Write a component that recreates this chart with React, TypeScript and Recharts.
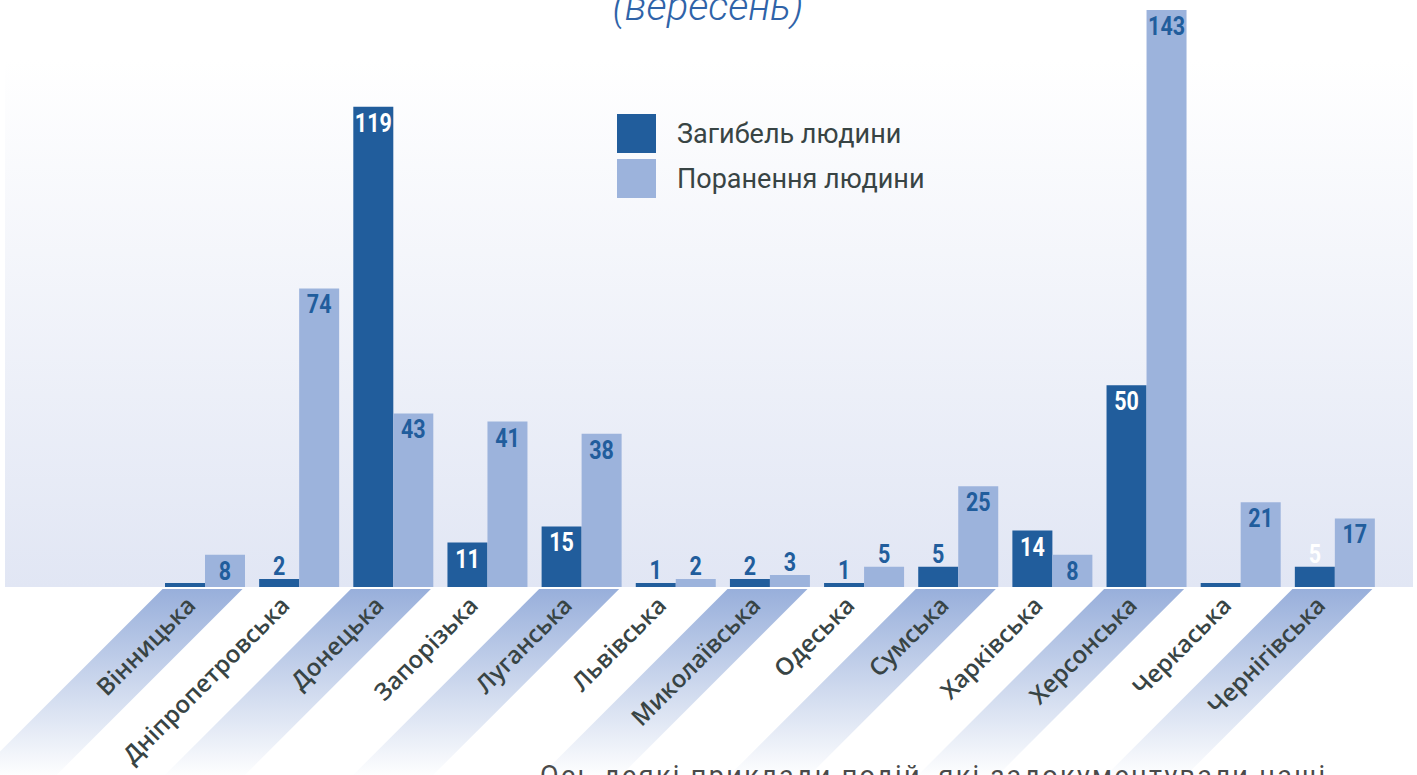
import React from 'react';
import { BarChart, Bar, XAxis, YAxis, Legend, LabelList } from 'recharts';

const categories = [
  'Вінницька',
  'Дніпропетровська',
  'Донецька',
  'Запорізька',
  'Луганська',
  'Львівська',
  'Миколаївська',
  'Одеська',
  'Сумська',
  'Харківська',
  'Херсонська',
  'Черкаська',
  'Чернігівська',
];
const deaths = [1, 2, 119, 11, 15, 1, 2, 1, 5, 14, 50, 1, 5];
const injuries = [8, 74, 43, 41, 38, 2, 3, 5, 25, 8, 143, 21, 17];
const seriesNames = ['Загибель людини', 'Поранення людини'];
const hiddenDeathLabels = ['Вінницька', 'Черкаська'];
const whiteOutsideDeathLabels = ['Чернігівська'];
const titleText = '(вересень)';
const footerText = 'Ось деякі приклади подій, які задокументували наші';

const DARK = '#215d9c';
const LIGHT = '#9cb3dc';
const TEXT = '#384444';

const data = categories.map((name, i) => ({ name, deaths: deaths[i], injuries: injuries[i] }));

const makeLabel = (series: 'deaths' | 'injuries') => (props: any) => {
  const vb = props.viewBox || {};
  const x = props.x ?? vb.x;
  const y = props.y ?? vb.y;
  const width = props.width ?? vb.width;
  const { value, index } = props;
  const name = categories[index];
  const cx = x + width / 2;
  let inside: boolean;
  let fill: string;
  if (series === 'deaths') {
    if (hiddenDeathLabels.includes(name)) return null;
    inside = value >= 10;
    fill = inside || whiteOutsideDeathLabels.includes(name) ? '#ffffff' : DARK;
  } else {
    inside = value >= 8;
    fill = DARK;
  }
  const ty = inside ? y + 25 : y - 4;
  return (
    <text
      transform={`translate(${cx},${ty}) scale(0.86,1)`}
      textAnchor="middle"
      fill={fill}
      fontFamily="Roboto, sans-serif"
      fontWeight={700}
      fontSize={25}
    >
      {value}
    </text>
  );
};

const CategoryTick = (props: any) => {
  const { x, y, payload } = props;
  const i = payload?.index ?? props.index ?? 0;
  const striped = i % 2 === 0;
  const top = y + 2;
  const drop = 260;
  const left = x - 42.5;
  const right = x + 37.5;
  const ax = x - 8;
  const ay = y + 20;
  return (
    <g>
      {i === 0 && (
        <defs>
          <linearGradient id="stripeGrad" gradientUnits="userSpaceOnUse" x1="0" y1="589" x2="0" y2="778">
            <stop offset="0" stopColor="#98afdb" />
            <stop offset="1" stopColor="#ffffff" />
          </linearGradient>
        </defs>
      )}
      {striped && (
        <polygon
          points={`${left},${top} ${right},${top} ${right - drop},${top + drop} ${left - drop},${top + drop}`}
          fill="url(#stripeGrad)"
        />
      )}
      <text
        x={ax}
        y={ay}
        transform={`rotate(-45 ${ax} ${ay})`}
        textAnchor="end"
        fill={TEXT}
        fontFamily="'Open Sans', 'Noto Sans', sans-serif"
        fontWeight={600}
        fontSize={24}
      >
        {payload.value}
      </text>
    </g>
  );
};

const LegendContent = () => {
  const colors = [DARK, LIGHT];
  return (
    <div style={{ display: 'flex', flexDirection: 'column', gap: 6 }}>
      {seriesNames.map((n, i) => (
        <div key={n} style={{ display: 'flex', alignItems: 'center', height: 39 }}>
          <div style={{ width: 39, height: 39, background: colors[i] }} />
          <span
            style={{
              marginLeft: 21,
              fontFamily: 'Roboto, sans-serif',
              fontSize: 27,
              color: TEXT,
              whiteSpace: 'nowrap',
            }}
          >
            {n}
          </span>
        </div>
      ))}
    </div>
  );
};

export default function App() {
  return (
    <div
      style={{
        position: 'absolute',
        left: 0,
        top: 0,
        width: 1417,
        height: 775,
        overflow: 'hidden',
        background: '#ffffff',
      }}
    >
      <svg width={1417} height={775} style={{ position: 'absolute', left: 0, top: 0 }}>
        <defs>
          <linearGradient id="bgGrad" x1="0" y1="0" x2="0" y2="1">
            <stop offset="0" stopColor="#ffffff" />
            <stop offset="1" stopColor="#e1e6f4" />
          </linearGradient>
        </defs>
        <rect x={5} y={60} width={1408} height={527} fill="url(#bgGrad)" />
        <text
          x={708}
          y={20}
          textAnchor="middle"
          fontFamily="Roboto, sans-serif"
          fontStyle="italic"
          fontWeight={300}
          fontSize={40}
          fill="#2f63a8"
        >
          {titleText}
        </text>
      </svg>
      <div style={{ position: 'absolute', left: 0, top: 0 }}>
        <BarChart
          width={1417}
          height={775}
          data={data}
          margin={{ top: 10, right: 35, left: 158, bottom: 0 }}
          barCategoryGap={7}
          barGap={0}
        >
          <XAxis
            dataKey="name"
            axisLine={false}
            tickLine={false}
            tickSize={0}
            tickMargin={0}
            interval={0}
            height={188}
            tick={<CategoryTick />}
          />
          <YAxis hide domain={[0, 143]} />
          <Legend
            layout="vertical"
            align="center"
            verticalAlign="middle"
            wrapperStyle={{ left: 617, top: 114, width: 'auto' }}
            content={<LegendContent />}
          />
          <Bar dataKey="deaths" name={seriesNames[0]} fill={DARK} isAnimationActive={false}>
            <LabelList dataKey="deaths" content={makeLabel('deaths')} />
          </Bar>
          <Bar dataKey="injuries" name={seriesNames[1]} fill={LIGHT} isAnimationActive={false}>
            <LabelList dataKey="injuries" content={makeLabel('injuries')} />
          </Bar>
        </BarChart>
      </div>
      <svg width={1417} height={775} style={{ position: 'absolute', left: 0, top: 0, pointerEvents: 'none' }}>
        <text
          x={540}
          y={785}
          fontFamily="Roboto, sans-serif"
          fontSize={27}
          fill="#4a4a4a"
          textLength={785}
          lengthAdjust="spacing"
        >
          {footerText}
        </text>
      </svg>
    </div>
  );
}
